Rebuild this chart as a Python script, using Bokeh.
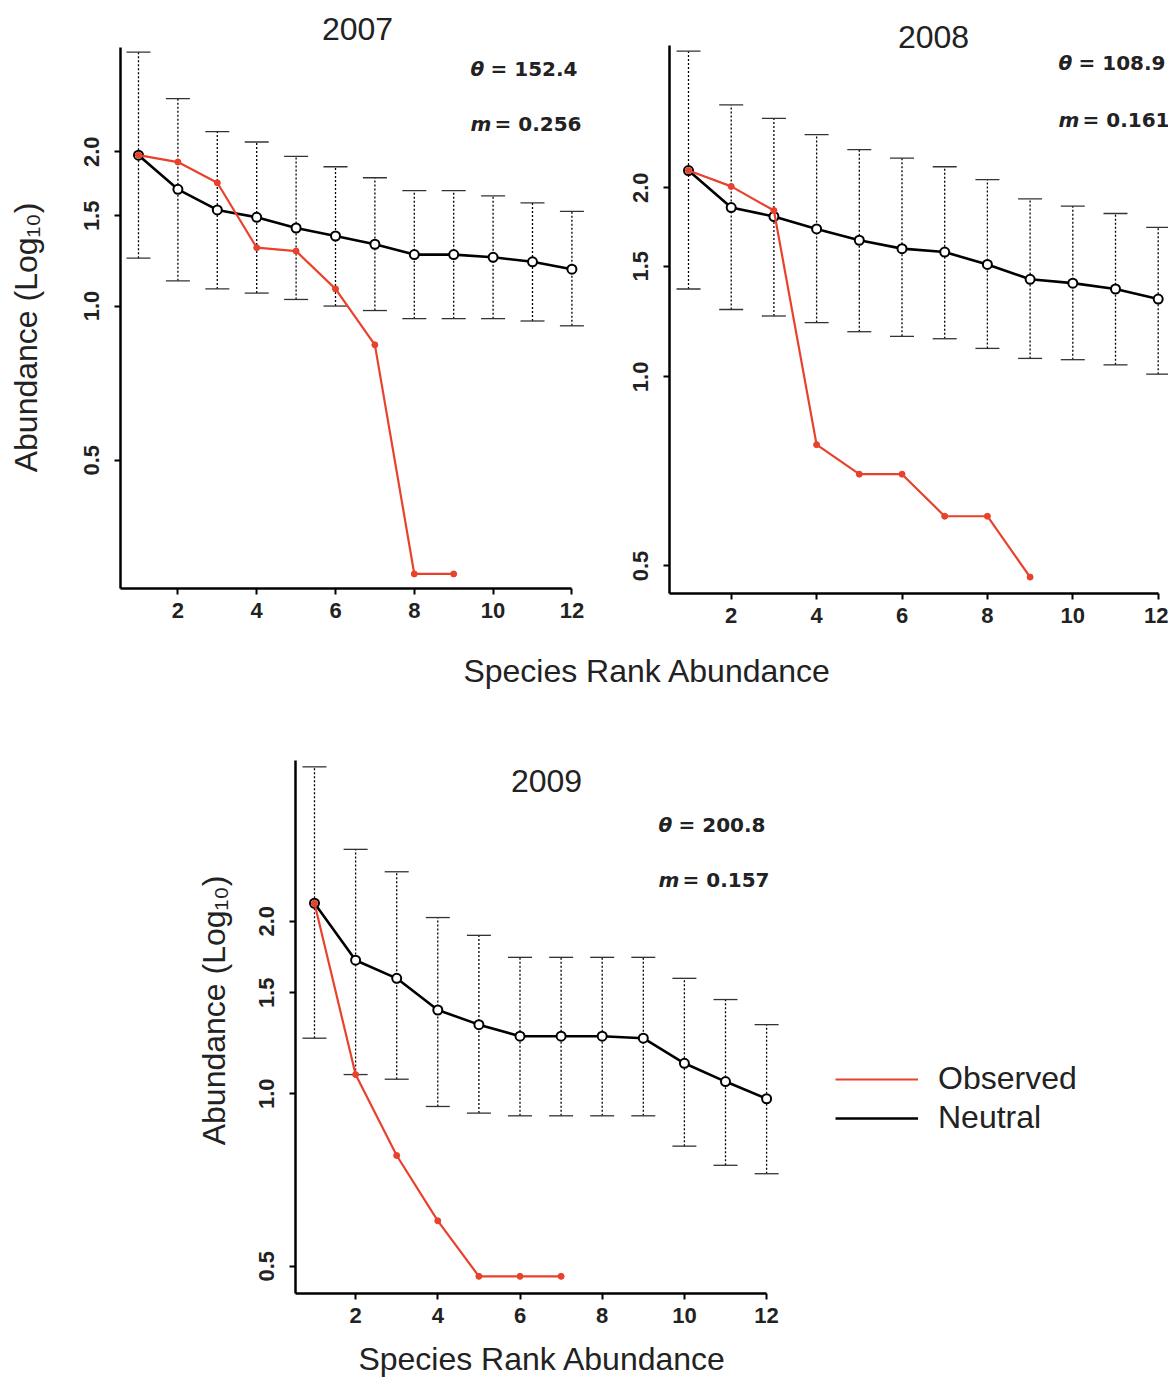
import math
from bokeh.plotting import figure
from bokeh.models import (ColumnDataSource, Whisker, TeeHead, FixedTicker, PrintfTickFormatter,
                          Label, Legend, LegendItem, Range1d)
from bokeh.layouts import row, column
from bokeh.embed import file_html
from bokeh.resources import INLINE

rank = list(range(1, 13))

years = ["2007", "2008", "2009"]
theta = ["152.4", "108.9", "200.8"]
m_val = ["0.256", "0.161", "0.157"]

obs_2007 = [1.97, 1.91, 1.74, 1.30, 1.28, 1.08, 0.84, 0.30, 0.30]
neu_2007 = [1.97, 1.69, 1.54, 1.49, 1.42, 1.37, 1.32, 1.26, 1.26, 1.245, 1.22, 1.18]
up_2007 = [3.13, 2.54, 2.19, 2.09, 1.96, 1.87, 1.78, 1.68, 1.68, 1.64, 1.59, 1.53]
lo_2007 = [1.24, 1.12, 1.08, 1.06, 1.03, 1.00, 0.98, 0.945, 0.945, 0.945, 0.935, 0.915]

obs_2008 = [2.13, 2.01, 1.84, 0.78, 0.70, 0.70, 0.60, 0.60, 0.48]
neu_2008 = [2.13, 1.86, 1.80, 1.72, 1.65, 1.60, 1.58, 1.51, 1.43, 1.41, 1.38, 1.33]
up_2008 = [3.30, 2.71, 2.58, 2.43, 2.30, 2.23, 2.16, 2.06, 1.92, 1.87, 1.82, 1.73]
lo_2008 = [1.38, 1.28, 1.25, 1.22, 1.18, 1.16, 1.15, 1.11, 1.07, 1.065, 1.045, 1.01]

obs_2009 = [2.15, 1.08, 0.78, 0.60, 0.48, 0.48, 0.48]
neu_2009 = [2.15, 1.71, 1.59, 1.40, 1.32, 1.26, 1.26, 1.26, 1.25, 1.13, 1.05, 0.98]
up_2009 = [3.72, 2.67, 2.44, 2.03, 1.89, 1.73, 1.73, 1.73, 1.73, 1.59, 1.46, 1.32]
lo_2009 = [1.25, 1.08, 1.06, 0.95, 0.925, 0.915, 0.915, 0.915, 0.915, 0.81, 0.75, 0.725]

x_ticks = [2, 4, 6, 8, 10, 12]
y_ticks = [0.5, 1.0, 1.5, 2.0]
y_bottom = [0.281, 0.452, 0.448]
y_top = [3.196, 3.369, 3.816]

RED = "#e8412c"
TXT = "#222222"
FONT = "Liberation Sans"
Y_TITLE = "Abundance (Log\u2081\u2080)"
X_TITLE = "Species Rank Abundance"

# Layout geometry in page pixels:
#  a/u: pixel of rank 1 and pixels per rank; ax: x of y-axis line;
#  top/bot: ends of the y-axis line; box: figure outer box (= plotting frame).
panels = [
    dict(obs=obs_2007, neu=neu_2007, up=up_2007, lo=lo_2007,
         a=138, u=39.4, ax=120, top=47, bot=588, box=(0, 600, 0, 640),
         title=(357, 28), th=(470, 68), mm=(470, 123), ytitle=(25, 337)),
    dict(obs=obs_2008, neu=neu_2008, up=up_2008, lo=lo_2008,
         a=688, u=42.7, ax=669, top=45, bot=593, box=(600, 1168, 0, 640),
         title=(933, 36), th=(1058, 62), mm=(1058, 119), ytitle=None),
    dict(obs=obs_2009, neu=neu_2009, up=up_2009, lo=lo_2009,
         a=314, u=41.1, ax=295, top=760, bot=1293, box=(0, 1168, 640, 1377),
         title=(546, 780), th=(658, 824), mm=(658, 879), ytitle=(213, 1010)),
]


def make_panel(i, d):
    y0, y1 = y_bottom[i], y_top[i]
    bx0, bx1, by0, by1 = d["box"]

    def px(xp):
        return 1 + (xp - d["a"]) / d["u"]

    def py(yp):
        return math.exp(math.log(y0) + (d["bot"] - yp) / (d["bot"] - d["top"]) * math.log(y1 / y0))

    p = figure(width=bx1 - bx0, height=by1 - by0, y_axis_type="log",
               x_range=Range1d(px(bx0), px(bx1)), y_range=Range1d(py(by1), py(by0)),
               toolbar_location=None, output_backend="svg", min_border=0)
    p.outline_line_color = None
    p.xgrid.visible = False
    p.ygrid.visible = False

    # axes, placed at fixed data locations inside the frame
    p.xaxis.ticker = FixedTicker(ticks=x_ticks)
    p.xaxis.bounds = (px(d["ax"]), 12)
    p.xaxis.fixed_location = y0
    p.yaxis.ticker = FixedTicker(ticks=y_ticks)
    p.yaxis.bounds = (y0, y1)
    p.yaxis.fixed_location = px(d["ax"])
    p.yaxis.formatter = PrintfTickFormatter(format="%.1f")
    for ax in (p.xaxis[0], p.yaxis[0]):
        ax.axis_line_width = 2.5
        ax.axis_line_color = "black"
        ax.major_tick_in = 0
        ax.major_tick_out = 6
        ax.major_tick_line_width = 2
        ax.minor_tick_line_color = None
        ax.major_label_text_font = FONT
        ax.major_label_text_font_style = "bold"
        ax.major_label_text_font_size = "22px"
        ax.major_label_text_color = TXT
    p.xaxis.major_label_standoff = 8
    p.yaxis.major_label_standoff = 15
    p.yaxis.major_label_orientation = "vertical"

    # error bars
    src = ColumnDataSource(dict(x=rank, up=d["up"], lo=d["lo"], neu=d["neu"]))
    w = Whisker(source=src, base="x", upper="up", lower="lo",
                line_color="black", line_width=1.3, line_dash="2 2",
                upper_head=TeeHead(size=24, line_width=1.3, line_color="#333333"),
                lower_head=TeeHead(size=24, line_width=1.3, line_color="#333333"))
    p.add_layout(w)

    # neutral
    nl = p.line("x", "neu", source=src, line_color="black", line_width=2.6)
    p.scatter("x", "neu", source=src, size=9, marker="circle",
              fill_color="white", line_color="black", line_width=2)

    # observed
    osrc = ColumnDataSource(dict(x=rank[:len(d["obs"])], y=d["obs"]))
    ol = p.line("x", "y", source=osrc, line_color=RED, line_width=2.2)
    p.scatter("x", "y", source=osrc, size=6, marker="circle",
              fill_color=RED, line_color=RED)

    # texts
    def label(xp, yp, text, **kw):
        opts = dict(text_align="center", text_baseline="middle", text_font=FONT,
                    text_font_size="32px", text_color=TXT)
        opts.update(kw)
        p.add_layout(Label(x=px(xp), y=py(yp), text=text, **opts))

    tx, ty = d["title"]
    label(tx, ty, years[i])
    if d["ytitle"]:
        label(d["ytitle"][0], d["ytitle"][1], Y_TITLE, angle=math.pi / 2)
    for (lx, ly), sym, val, gap in ((d["th"], "\u03b8", theta[i], 20), (d["mm"], "m", m_val[i], 24)):
        label(lx, ly, sym, text_align="left", text_font="DejaVu Sans",
              text_font_style="bold italic", text_font_size="20px")
        label(lx + gap, ly, "= " + val, text_align="left", text_font="DejaVu Sans",
              text_font_style="bold", text_font_size="20px")
    return p, ol, nl, label


figs = [make_panel(i, d) for i, d in enumerate(panels)]
p1 = figs[0][0]
p2 = figs[1][0]
p3, ol3, nl3, label3 = figs[2]

# x titles: shared one for the top row, and the one for the lower panel
label3(647, 670, X_TITLE)
label3(542, 1358, X_TITLE)

legend = Legend(items=[LegendItem(label="Observed", renderers=[ol3]),
                       LegendItem(label="Neutral", renderers=[nl3])],
                location=(835, 1377 - 1136), padding=0, margin=0,
                border_line_color=None, background_fill_alpha=0,
                label_standoff=20, glyph_width=83, glyph_height=36,
                label_height=36, spacing=2,
                label_text_font=FONT, label_text_font_size="32px",
                label_text_color=TXT)
p3.add_layout(legend)

layout = column(row(p1, p2), p3)
open("out.html", "w").write(file_html(layout, INLINE))
